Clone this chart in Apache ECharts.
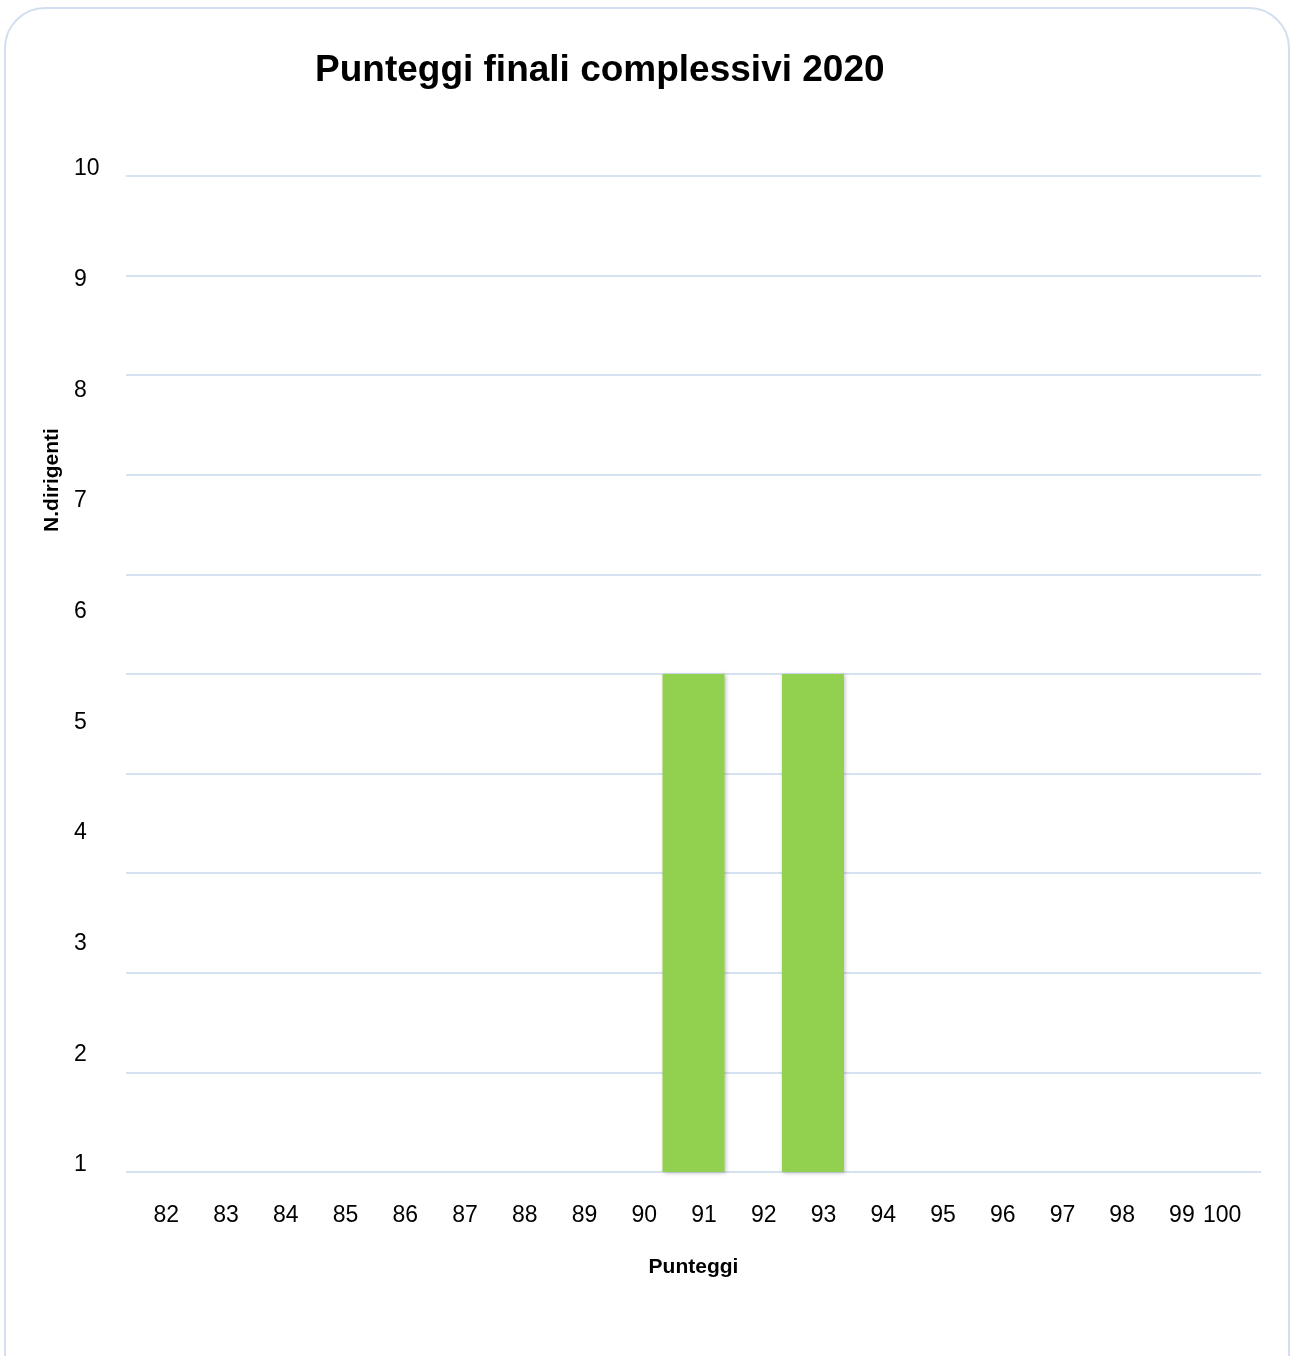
<!DOCTYPE html>
<html>
<head>
<meta charset="utf-8">
<script src="https://cdn.jsdelivr.net/npm/echarts@6/dist/echarts.min.js"></script>
<style>
html,body{margin:0;padding:0;background:#fff;}
#chart{width:1292px;height:1356px;}
</style>
</head>
<body>
<div id="chart"></div>
<script>
// Data
const titleText = 'Punteggi finali complessivi 2020';
const categories = ['82','83','84','85','86','87','88','89','90','91','92','93','94','95','96','97','98','99','100'];
const counts = [0,0,0,0,0,0,0,0,0,5,0,5,0,0,0,0,0,0,0];
const yTickLabels = ['1','2','3','4','5','6','7','8','9','10'];
const xName = 'Punteggi';
const yName = 'N.dirigenti';

const FONT = 'Liberation Sans, Arial, sans-serif';
const chart = echarts.init(document.getElementById('chart'));
chart.setOption({
  backgroundColor: '#ffffff',
  animation: false,
  graphic: [{
    type: 'rect',
    shape: {x: 5, y: 8, width: 1284, height: 1400, r: 40},
    style: {fill: 'none', stroke: '#d3dff0', lineWidth: 2},
    silent: true, z: -1
  }],
  title: {
    text: titleText,
    left: 315, top: 52, padding: 0,
    textStyle: {fontFamily: FONT, fontSize: 37, fontWeight: 'bold', color: '#000'}
  },
  grid: {left: 126, right: 31, top: 176, bottom: 184, containLabel: false},
  xAxis: {
    type: 'category',
    data: categories,
    name: xName,
    nameLocation: 'middle',
    nameGap: 85,
    nameTextStyle: {fontFamily: FONT, fontSize: 21, fontWeight: 'bold', color: '#000', verticalAlign: 'top'},
    axisLine: {show: false},
    axisTick: {show: false},
    axisLabel: {
      interval: 0,
      margin: 32,
      fontFamily: FONT, fontSize: 23, color: '#000',
      formatter: function (v) { return v === '100' ? '{l|' + v + '}' : '{r|' + v + '}'; },
      rich: {
        r: {fontFamily: FONT, fontSize: 23, color: '#000', padding: [0, 0, 0, 21]},
        l: {fontFamily: FONT, fontSize: 23, color: '#000', padding: [0, 18, 0, 0]}
      }
    }
  },
  yAxis: [{
    type: 'value',
    min: 0, max: 10, interval: 1,
    name: yName,
    nameLocation: 'middle',
    nameGap: 63,
    nameRotate: 90,
    nameTextStyle: {fontFamily: FONT, fontSize: 21, fontWeight: 'bold', color: '#000', padding: [0, 0, 0, 388]},
    axisLine: {show: false},
    axisTick: {show: false},
    axisLabel: {show: false},
    splitLine: {show: true, lineStyle: {color: '#d6e1f1', width: 2}}
  }, {
    type: 'value',
    position: 'left',
    min: 1, max: 10, interval: 1,
    axisLine: {show: false},
    axisTick: {show: false},
    splitLine: {show: false},
    axisLabel: {
      show: true, margin: 52, align: 'left',
      verticalAlign: 'middle',
      formatter: function (v) { return '{t|' + (yTickLabels[Math.round(v) - 1] || '') + '}'; },
      rich: {
        t: {fontFamily: FONT, fontSize: 23, color: '#000', padding: [0, 0, 14, 0]}
      }
    }
  }],
  series: [{
    type: 'bar',
    data: counts,
    barWidth: 62,
    yAxisIndex: 0,
    itemStyle: {
      color: '#92d050',
      shadowColor: 'rgba(0,0,0,0.25)', shadowBlur: 4, shadowOffsetX: 1, shadowOffsetY: 1
    }
  }]
});
</script>
</body>
</html>
